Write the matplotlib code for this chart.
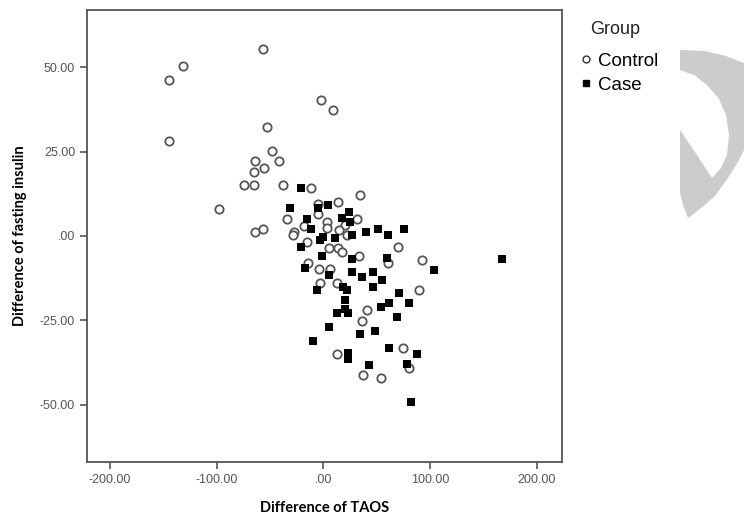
import matplotlib.pyplot as plt
from matplotlib.patches import Polygon
from matplotlib.ticker import FuncFormatter
import numpy as np

# values (difference of TAOS, difference of fasting insulin)
control_x = [-56.2, -131.1, -144.3, -1.9, 9.4, -144.3, -52.5, -47.8, -63.7, -41.2,
             -55.3, -64.6, -74.0, -64.6, -37.5, -11.2, -97.4, -63.7, -56.2, 34.7,
             14.1, -33.7, -27.2, -17.8, -4.7, -4.7, 3.7, 31.9, 20.6, 3.7,
             15.0, 22.5, -15.0, 5.6, 14.1, 17.8, 70.3, 33.7, 60.9, 92.7,
             -14.1, -3.7, 6.6, -2.8, 13.1, 89.9, 41.2, 36.5, 74.9, 13.1,
             80.6, 37.5, 54.3, -28.1]
control_y = [55.3, 50.3, 46.2, 40.2, 37.3, 28.1, 32.2, 25.1, 22.2, 22.2,
             20.1, 18.9, 15.1, 15.1, 15.1, 14.2, 8.0, 1.2, 2.1, 12.1,
             10.1, 5.0, 1.2, 3.0, 9.5, 6.5, 4.1, 5.0, 3.3, 2.4,
             1.8, 0.3, -1.8, -3.6, -3.6, -4.7, -3.3, -5.9, -8.0, -7.1,
             -8.0, -9.8, -9.8, -13.9, -13.9, -16.0, -21.9, -25.1, -33.1, -34.9,
             -39.1, -41.1, -42.0, 0.3]

case_x = [-20.6, -30.9, -15.0, -11.2, -4.7, 4.7, 17.8, 24.4, 25.3, 27.2,
          40.3, 51.5, 60.9, 75.9, 0.0, 11.2, -2.8, -20.6, -0.9, 27.2,
          60.0, -16.9, 5.6, 27.2, 36.5, 46.8, 55.3, 46.8, 18.7, 22.5,
          -5.6, 20.6, 61.8, 80.6, 54.3, 71.2, 13.1, 23.4, 20.6, 69.3,
          5.6, 34.7, 48.7, -9.4, 61.8, 88.1, 23.4, 23.4, 43.1, 78.7,
          82.4, 104.0, 167.7]
case_y = [14.2, 8.3, 5.0, 2.1, 8.3, 9.2, 5.3, 7.1, 4.1, 0.3,
          1.2, 2.1, 0.3, 2.1, -0.3, -0.6, -1.2, -3.3, -5.9, -6.8,
          -6.5, -9.5, -11.5, -10.7, -12.1, -10.7, -13.0, -15.1, -15.1, -16.0,
          -16.0, -18.9, -19.8, -19.8, -21.0, -16.9, -22.8, -22.8, -21.6, -24.0,
          -26.9, -29.0, -28.1, -31.1, -33.1, -34.9, -34.5, -36.5, -38.2, -37.9,
          -49.1, -10.1, -6.8]

x_ticks = [-200, -100, 0, 100, 200]
y_ticks = [-50, -25, 0, 25, 50]


def spss_fmt(v, pos):
    s = '%.2f' % v
    if s.startswith('0.'):
        s = s[1:]
    elif s == '-0.00':
        s = '.00'
    return s


fig = plt.figure(figsize=(7.44, 5.14), dpi=100)
ax = fig.add_axes([87 / 744, 52 / 514, 475 / 744, 452 / 514])

ax.scatter(control_x, control_y, s=36, facecolors='white', edgecolors='#555555',
           linewidths=1.3, marker='o', zorder=3)
ax.scatter(case_x, case_y, s=40, c='black', marker='s', linewidths=0, zorder=3)

ax.set_xlim(-221.5, 223.5)
ax.set_ylim(-66.9, 66.9)
ax.set_xticks(x_ticks)
ax.set_yticks(y_ticks)
ax.xaxis.set_major_formatter(FuncFormatter(spss_fmt))
ax.yaxis.set_major_formatter(FuncFormatter(spss_fmt))
ax.tick_params(direction='out', length=5, width=1.2, color='#555555',
               labelcolor='#555555', labelsize=9)
for t in ax.get_xticklabels() + ax.get_yticklabels():
    t.set_family('Liberation Sans')
for sp in ax.spines.values():
    sp.set_color('#555555')
    sp.set_linewidth(1.3)

ax.set_xlabel('Difference of TAOS', fontsize=10.5, fontweight='bold',
              family='Lato', color='black', labelpad=11)
ax.set_ylabel('Difference of fasting insulin', fontsize=10.5, fontweight='bold',
              family='Lato', color='black', labelpad=9)

# legend drawn like the SPSS one
fig.text(590 / 744, 1 - 30 / 514, 'Group', fontsize=13, family='Liberation Sans',
         color='#222222', va='center')
fig.text(598 / 744, 1 - 61 / 514, 'Control', fontsize=13.5, family='Liberation Sans',
         color='black', va='center')
fig.text(598 / 744, 1 - 85 / 514, 'Case', fontsize=13.5, family='Liberation Sans',
         color='black', va='center')
fig.lines.append(plt.Line2D([586 / 744], [1 - 59 / 514], marker='o', ms=5,
                            mfc='white', mec='#333333', mew=1.0,
                            transform=fig.transFigure))
fig.lines.append(plt.Line2D([586 / 744], [1 - 83 / 514], marker='s', ms=5,
                            color='black', transform=fig.transFigure))

# grey watermark shape on the right
wm = [(680, 50), (705, 51), (726, 56), (744, 63), (744, 150), (738, 162),
      (728, 178), (715, 196), (700, 209), (688, 218), (683, 205), (680, 193),
      (680, 130), (697, 155), (712, 178), (721, 168), (727, 155), (729, 135),
      (726, 115), (719, 99), (707, 85), (694, 75), (680, 70)]
wm = [(px / 744, 1 - py / 514) for px, py in wm]
fig.patches.append(Polygon(wm, closed=True, facecolor='#cccccc', edgecolor='none',
                           transform=fig.transFigure, zorder=0))

fig.savefig('out.png', dpi=100)
